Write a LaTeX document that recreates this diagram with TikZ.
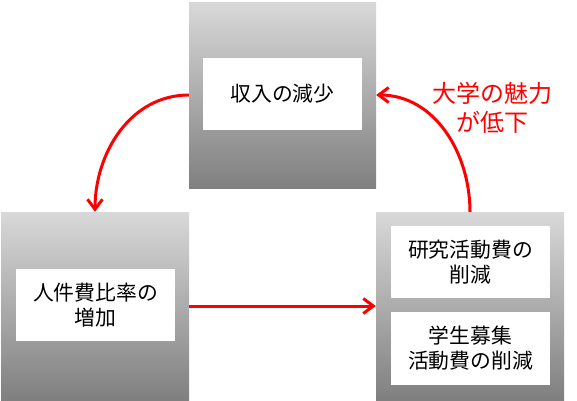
\documentclass[tikz,border=0pt]{standalone}
\usepackage{fontspec}
\setmainfont{Noto Sans CJK JP}
\usetikzlibrary{arrows.meta}
\definecolor{boxtop}{gray}{0.85}
\definecolor{boxbottom}{gray}{0.5}
\begin{document}
\begin{tikzpicture}[x=1pt, y=-1pt,
  outerbox/.style={minimum width=188pt, minimum height=188pt, inner sep=0pt, top color=boxtop, bottom color=boxbottom},
  innerbox/.style={fill=white, minimum width=159pt, minimum height=72pt, inner sep=0pt, align=center, font=\fontsize{20.8}{25}\selectfont},
  flow/.style={red, line width=3pt, -{Straight Barb[length=10pt, width=15pt]}}]
  \useasboundingbox (0, 0) rectangle (577, 400);
  \node[outerbox, minimum width=187pt, minimum height=186pt] (top) at (282.5, 95) {};
  \node[outerbox] (left) at (95, 306) {};
  \node[outerbox] (right) at (470, 306) {};
  \node[innerbox] (income) at (282.5, 94) {収入の減少};
  \node[innerbox] (labor) at (95.5, 305) {人件費比率の\\増加};
  \node[innerbox] (research) at (470.5, 262) {研究活動費の\\削減};
  \node[innerbox, minimum height=73pt] (recruit) at (470.5, 348.5) {学生募集\\活動費の削減};
  \node[red, align=center, font=\fontsize{24}{29}\selectfont] (appeal) at (492, 108) {大学の魅力\\が低下};
  \draw[flow] (top.west) to[out=180, in=90] (left.north);
  \draw[flow] (left) -- (right);
  \draw[flow] (right.north) to[out=90, in=0] (top.east);
\end{tikzpicture}
\end{document}
